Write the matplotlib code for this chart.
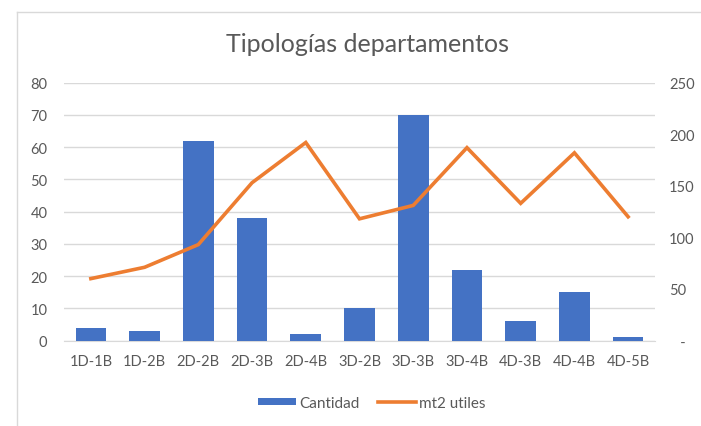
import matplotlib
matplotlib.use("Agg")
import matplotlib.pyplot as plt
from matplotlib.lines import Line2D
from matplotlib.patches import Patch
import numpy as np

categories = ["1D-1B", "1D-2B", "2D-2B", "2D-3B", "2D-4B", "3D-2B", "3D-3B", "3D-4B", "4D-3B", "4D-4B", "4D-5B"]
cantidad = [4, 3, 62, 38, 2, 10, 70, 22, 6, 15, 1]
mt2_utiles = [60, 71, 93, 153, 192, 118, 131, 187, 133, 182, 120]
left_ticks = [0, 10, 20, 30, 40, 50, 60, 70, 80]
right_ticks = [0, 50, 100, 150, 200, 250]
right_labels = ["   -", "50", "100", "150", "200", "250"]

plt.rcParams['font.family'] = ['Lato', 'DejaVu Sans']
W, H = 701, 427
fig = plt.figure(figsize=(W/100, H/100), dpi=100)
fig.patch.set_facecolor("white")

x0, x1 = 64, 655
y_top, y_bot = 83.7, 341.5
ax = fig.add_axes([x0/W, 1 - y_bot/H, (x1-x0)/W, (y_bot-y_top)/H])
ax2 = ax.twinx()

x = np.arange(len(categories))
ax.bar(x, cantidad, width=0.57, color="#4472C4", zorder=3)
ax.set_xlim(-0.5, len(categories)-0.5)
ax.set_ylim(0, 80)
ax.set_yticks(left_ticks)
ax.set_xticks(x)
ax.set_xticklabels(categories)
ax.grid(axis="y", color="#D9D9D9", linewidth=1, zorder=0)
ax.set_axisbelow(True)
for s in ["top", "right", "left"]:
    ax.spines[s].set_visible(False)
ax.spines["bottom"].set_color("#D9D9D9")
ax.tick_params(axis="both", length=0, labelsize=10.5, colors="#595959")
ax.tick_params(axis="y", pad=12)
ax.tick_params(axis="x", pad=10)

ax2.plot(x, mt2_utiles, color="#ED7D31", linewidth=2.6, zorder=4, solid_joinstyle="miter")
ax2.set_ylim(0, 250)
ax2.set_yticks(right_ticks)
ax2.set_yticklabels(right_labels)
for s in ["top", "right", "left", "bottom"]:
    ax2.spines[s].set_visible(False)
ax2.tick_params(axis="y", length=0, labelsize=10.5, colors="#595959", pad=10)
ax2.set_zorder(ax.get_zorder() + 1)
ax2.patch.set_visible(False)

fig.text(368/W, 1 - 44/H, "Tipologías departamentos", ha="center", va="center",
         fontsize=18, color="#595959")

handles = [Patch(facecolor="#4472C4", edgecolor="none"),
           Line2D([0], [0], color="#ED7D31", linewidth=2.6)]
fig.legend(handles, ["Cantidad", "mt2 utiles"], loc="center", bbox_to_anchor=(372/W, 1 - 404/H),
           ncol=2, frameon=False, fontsize=11, labelcolor="#595959",
           handlelength=2.5, handleheight=0.35, columnspacing=1.2, handletextpad=0.2)

# chart border (left and top edges visible)
fig.add_artist(Line2D([17/W, 17/W], [0, 1 - 13/H], color="#D9D9D9", linewidth=1, transform=fig.transFigure))
fig.add_artist(Line2D([17/W, 1], [1 - 13/H, 1 - 13/H], color="#D9D9D9", linewidth=1, transform=fig.transFigure))

fig.savefig("out.png", dpi=100, facecolor="white")
